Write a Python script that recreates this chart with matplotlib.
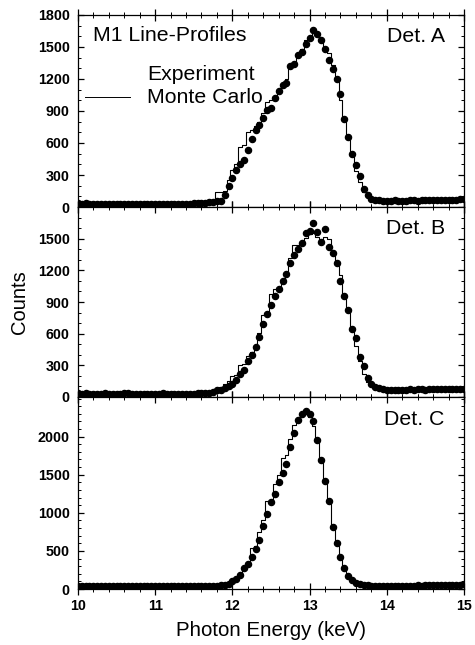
import matplotlib.pyplot as plt
import numpy as np
from matplotlib.ticker import MultipleLocator

# energy grid, 0.05 keV bins from 10 to 15 keV
energy = np.round(np.linspace(10.0, 15.0, 101), 2)

exp_a = [34, 33, 35, 32, 33, 31, 32, 33, 30, 31, 32, 30, 31, 30, 32, 31, 30, 29, 31, 30,
         30, 31, 29, 30, 31, 32, 30, 31, 33, 32, 34,
         35, 38, 40, 45, 48, 52, 60, 110, 200, 270, 350, 400, 440, 530, 640, 720, 770, 830, 910,
         930, 1020, 1090, 1140, 1160, 1320, 1340, 1420, 1450, 1530, 1580, 1660, 1620, 1560, 1480,
         1380, 1290, 1200, 1060, 820, 660, 500, 390, 290, 170, 110, 80, 68, 62, 58, 60,
         60, 62, 58, 61, 60, 63, 62, 60, 64, 63, 65, 62, 66, 65, 68, 66, 70, 68, 72, 78]
mc_a = [33, 33, 33, 32, 32, 32, 32, 31, 31, 31, 31, 31, 31, 31, 31, 31, 31, 31, 31, 31,
        31, 31, 31, 31, 32, 32, 32, 33, 33, 34, 35,
        36, 38, 40, 44, 48, 140, 140, 150, 250, 350, 400, 560, 580, 700, 720, 760, 800, 880, 980,
        1000, 1040, 1070, 1150, 1200, 1340, 1350, 1440, 1480, 1560, 1600, 1650, 1620, 1560, 1500,
        1440, 1330, 1200, 1000, 820, 640, 480, 340, 230, 140, 90, 70, 64, 62, 60, 60,
        60, 61, 61, 62, 62, 62, 63, 63, 63, 64, 64, 65, 65, 66, 67, 67, 68, 69, 70, 76]

exp_b = [35, 33, 34, 32, 31, 33, 32, 34, 31, 33, 32, 33, 40, 36, 33, 32, 31, 33, 32, 31,
         33, 32, 34, 31, 32, 33, 31, 32, 33, 32, 33,
         34, 35, 38, 40, 50, 62, 70, 85, 105, 125, 165, 215, 260, 340, 400, 470, 570, 690, 790,
         870, 960, 1020, 1100, 1170, 1270, 1350, 1400, 1460, 1550, 1570, 1650, 1560, 1470, 1590,
         1420, 1360, 1270, 1100, 960, 820, 640, 560, 380, 290, 180, 120, 95, 88, 80, 70,
         68, 70, 69, 71, 70, 72, 70, 73, 72, 71, 74, 72, 75, 73, 76, 74, 75, 77, 76, 80]
mc_b = [34, 34, 33, 33, 33, 33, 33, 33, 33, 33, 33, 33, 34, 34, 33, 33, 33, 33, 33, 33,
        33, 33, 33, 33, 33, 33, 33, 33, 33, 33, 33,
        34, 35, 37, 40, 48, 70, 90, 120, 150, 200, 210, 300, 310, 390, 430, 490, 610, 780, 800,
        980, 1026, 1030, 1110, 1180, 1320, 1440, 1440, 1460, 1510, 1540, 1550, 1520, 1470, 1520,
        1500, 1380, 1280, 1160, 980, 820, 640, 480, 340, 220, 140, 100, 80, 72, 70, 68,
        68, 69, 69, 70, 70, 71, 71, 72, 72, 72, 73, 73, 74, 74, 75, 75, 76, 76, 77, 79]

exp_c = [40, 38, 36, 37, 35, 36, 34, 35, 36, 34, 35, 34, 36, 35, 34, 33, 35, 34, 33, 34,
         35, 33, 34, 33, 35, 34, 33, 34, 35, 34, 36,
         35, 34, 36, 38, 40, 45, 50, 58, 70, 100, 125, 185, 270, 330, 420, 520, 640, 830, 990,
         1140, 1250, 1400, 1520, 1640, 1860, 2050, 2220, 2300, 2330, 2300, 2200, 1950, 1690, 1420,
         1150, 820, 600, 420, 280, 170, 120, 80, 60, 52, 48, 45, 44, 43, 42, 42,
         43, 44, 42, 45, 44, 46, 45, 47, 46, 48, 47, 49, 48, 50, 52, 51, 54, 56, 58, 70]
mc_c = [38, 37, 36, 36, 35, 35, 35, 35, 35, 35, 35, 35, 35, 35, 34, 34, 34, 34, 34, 34,
        34, 34, 34, 34, 34, 34, 34, 34, 34, 34, 35,
        35, 35, 36, 37, 39, 43, 48, 56, 75, 110, 140, 200, 280, 360, 540, 560, 750, 900, 1150,
        1160, 1380, 1500, 1720, 1760, 1970, 2150, 2220, 2300, 2300, 2260, 2140, 1950, 1680, 1420,
        1130, 820, 600, 420, 260, 160, 110, 70, 55, 50, 47, 45, 44, 43, 43, 43,
        43, 44, 44, 45, 45, 46, 46, 47, 47, 48, 48, 49, 49, 50, 51, 52, 53, 55, 57, 66]

panels = [
    ("Det. A", exp_a, mc_a, 1800, [0, 300, 600, 900, 1200, 1500, 1800]),
    ("Det. B", exp_b, mc_b, 1800, [0, 300, 600, 900, 1200, 1500]),
    ("Det. C", exp_c, mc_c, 2520, [0, 500, 1000, 1500, 2000]),
]

plt.rcParams['font.family'] = ['Liberation Sans', 'DejaVu Sans']

fig = plt.figure(figsize=(4.75, 6.45), dpi=100)
rects = [(0.164, 0.679, 0.813, 0.298),
         (0.164, 0.3845, 0.813, 0.2945),
         (0.164, 0.0868, 0.813, 0.2977)]

axes = []
for rect, (name, exp, mc, ymax, yt) in zip(rects, panels):
    ax = fig.add_axes(rect)
    ax.plot(energy, mc, color='black', lw=0.8, drawstyle='steps-mid')
    ax.plot(energy, exp, 'o', color='black', ms=4.4, mec='black')
    ax.set_xlim(10, 15)
    ax.set_ylim(0, ymax)
    ax.set_yticks(yt)
    ax.yaxis.set_minor_locator(MultipleLocator(100))
    ax.xaxis.set_major_locator(MultipleLocator(1))
    ax.xaxis.set_minor_locator(MultipleLocator(0.2))
    ax.tick_params(axis='x', which='both', direction='inout', top=True)
    ax.tick_params(axis='x', which='major', length=8, width=0.9, pad=3)
    ax.tick_params(axis='x', which='minor', length=5, width=0.7)
    ax.tick_params(axis='y', which='both', direction='in', right=True)
    ax.tick_params(axis='y', which='major', length=4, width=0.9, pad=6)
    ax.tick_params(axis='y', which='minor', length=2.5, width=0.7)
    for lab in ax.get_yticklabels() + ax.get_xticklabels():
        lab.set_fontweight('bold')
        lab.set_fontsize(10.3)
    for s in ax.spines.values():
        s.set_linewidth(0.9)
    ax.text(0.95, 0.885, name, transform=ax.transAxes, ha='right', va='center',
            fontsize=15.3)
    axes.append(ax)

for ax in axes[:2]:
    ax.tick_params(axis='x', labelbottom=False)

ax_a = axes[0]
ax_a.text(0.039, 0.89, "M1 Line-Profiles", transform=ax_a.transAxes, ha='left',
          va='center', fontsize=15.3)
ax_a.text(0.179, 0.69, "Experiment", transform=ax_a.transAxes, ha='left',
          va='center', fontsize=15.3)
ax_a.text(0.179, 0.57, "Monte Carlo", transform=ax_a.transAxes, ha='left',
          va='center', fontsize=15.3)
ax_a.plot([0.018, 0.135], [0.573, 0.573], color='black', lw=0.7,
          transform=ax_a.transAxes)

axes[1].set_ylabel("Counts", fontsize=14.5, labelpad=6)
axes[2].set_xlabel("Photon Energy (keV)", fontsize=14.8, labelpad=6)

fig.savefig("out.png", dpi=100)
